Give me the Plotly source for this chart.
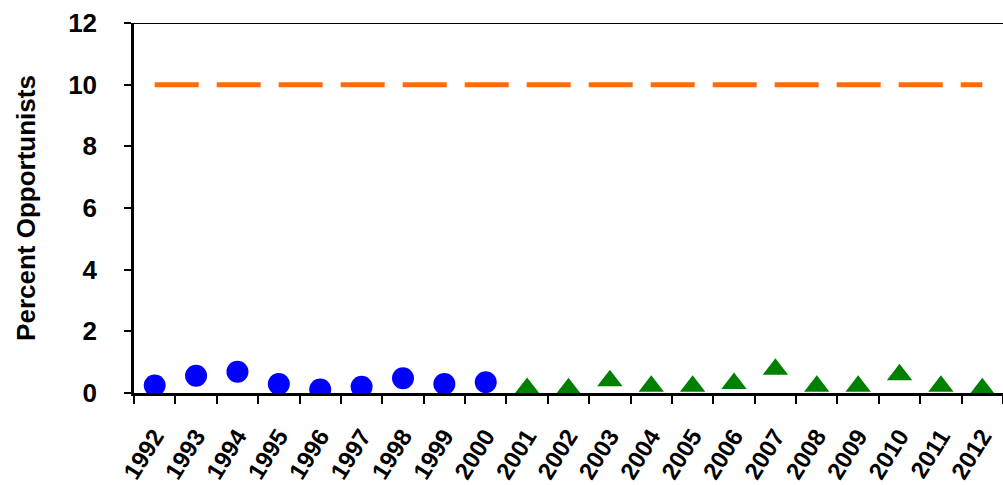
import plotly.graph_objects as go

years = [str(y) for y in range(1992, 2013)]
years_circle = [str(y) for y in range(1992, 2001)]
vals_circle = [0.24, 0.56, 0.69, 0.29, 0.11, 0.20, 0.48, 0.29, 0.35]
years_tri = [str(y) for y in range(2001, 2013)]
vals_tri = [0.15, 0.14, 0.40, 0.22, 0.22, 0.31, 0.77, 0.22, 0.22, 0.59, 0.22, 0.14]
threshold = [10] * len(years)

FONT = "Liberation Sans"

fig = go.Figure()
fig.add_trace(go.Scatter(x=years, y=threshold, mode="lines",
                         line=dict(color="#FF6A0A", width=5, dash="44px,18px"),
                         showlegend=False))
fig.add_trace(go.Scatter(x=years_circle, y=vals_circle, mode="markers",
                         marker=dict(symbol="circle", size=22, color="#0000FF"),
                         showlegend=False))
fig.add_trace(go.Scatter(x=years_tri, y=vals_tri, mode="markers",
                         marker=dict(symbol="triangle-up", size=22, color="#008000"),
                         showlegend=False))

fig.add_shape(type="line", xref="paper", yref="y", x0=-0.008, x1=1, y0=12, y1=12,
              line=dict(color="black", width=2))

fig.update_layout(
    width=1003, height=485,
    margin=dict(l=134, r=0, t=23, b=92),
    plot_bgcolor="white", paper_bgcolor="white",
    font=dict(family=FONT, color="black"),
    xaxis=dict(type="category", categoryorder="array", categoryarray=years,
               range=[-0.5, 20.5], tickson="boundaries", automargin=False,
               ticks="outside", ticklen=8, tickwidth=2, tickcolor="black",
               showline=True, linecolor="black", linewidth=2.5,
               showgrid=False, tickangle=-58, ticklabelstandoff=17,
               tickfont=dict(family=FONT, size=24, color="black", weight="bold")),
    yaxis=dict(range=[0, 12], tickvals=[0, 2, 4, 6, 8, 10, 12], automargin=False,
               ticks="outside", ticklen=7, tickwidth=2, tickcolor="black",
               showline=True, linecolor="black", linewidth=2.5,
               showgrid=False, zeroline=False, ticklabelstandoff=22,
               tickfont=dict(family=FONT, size=26, color="black", weight="bold"),
               title=dict(text="Percent Opportunists", standoff=26,
                          font=dict(family=FONT, size=26, color="black", weight="bold"))),
)

fig.write_html("out.html", config={"displayModeBar": False},
               post_script="document.body.style.margin='0';document.body.style.overflow='hidden';")
